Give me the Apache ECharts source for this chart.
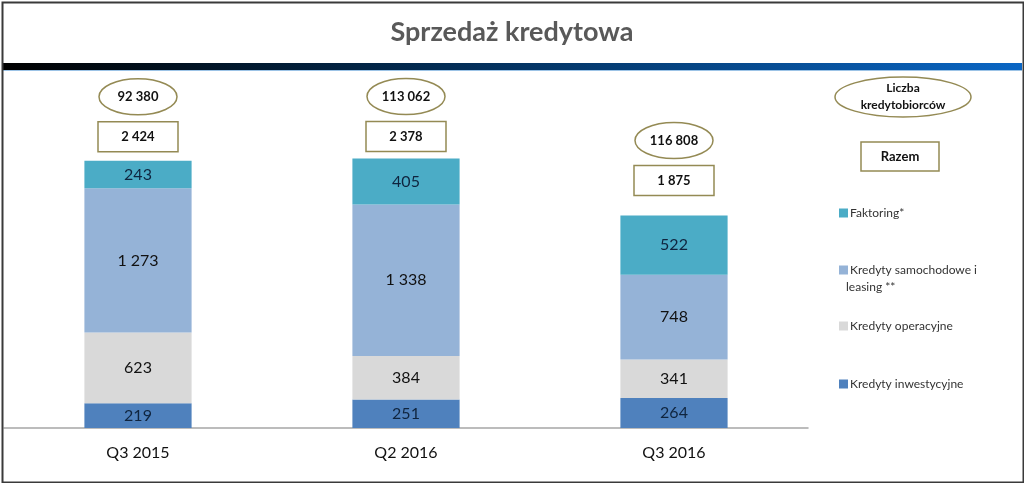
<!DOCTYPE html>
<html>
<head>
<meta charset="utf-8">
<script src="https://cdn.jsdelivr.net/npm/echarts@6/dist/echarts.min.js"></script>
<style>
html, body { margin: 0; padding: 0; background: #fff; }
#chart { width: 1024px; height: 483px; }
</style>
</head>
<body>
<div id="chart"></div>
<script>
// dane
var categories = ['Q3 2015', 'Q2 2016', 'Q3 2016'];
var inwestycyjne = [219, 251, 264];
var operacyjne = [623, 384, 341];
var samochodowe = [1273, 1338, 748];
var faktoring = [243, 405, 522];
var razem = ['2 424', '2 378', '1 875'];
var kredytobiorcy = ['92 380', '113 062', '116 808'];

// how far above the bar top the box sits (px)
var boxLift = [24, 22, 35];

var FONT = 'Lato, "Open Sans", sans-serif';
var OLIVE = '#948a54';

var stackTop = categories.map(function (c, i) {
  return inwestycyjne[i] + operacyjne[i] + samochodowe[i] + faktoring[i];
});

var barSeries = function (name, data, color, txt) {
  return {
    name: name,
    type: 'bar',
    stack: 'all',
    barWidth: '40%',
    data: data,
    itemStyle: { color: color },
    label: {
      show: true,
      position: 'inside',
      fontFamily: FONT,
      fontSize: 16,
      color: txt,
      formatter: function (p) { return String(p.value).replace(/\B(?=(\d{3})+(?!\d))/g, ' '); }
    }
  };
};

// one legend per entry so the spacing can follow the original
var legendItem = function (name, top) {
  return {
    data: [name],
    left: 834,
    top: top,
    orient: 'vertical',
    itemWidth: 9,
    itemHeight: 9,
    itemGap: 0,
    selectedMode: false,
    icon: 'rect',
    formatter: function (n) { return n.split('\n')[0]; },
    textStyle: { fontFamily: FONT, fontSize: 12, color: '#333', padding: [0, 0, 0, -3] }
  };
};

var chart = echarts.init(document.getElementById('chart'));

var option = {
  animation: false,
  title: {
    text: 'Sprzedaż kredytowa',
    left: 'center',
    top: 14,
    textStyle: { fontFamily: FONT, fontSize: 27, fontWeight: 'bold', color: '#595959' }
  },
  legend: [
    legendItem('Faktoring*', 202),
    legendItem('Kredyty samochodowe i\nleasing **', 259),
    legendItem('Kredyty operacyjne', 315),
    legendItem('Kredyty inwestycyjne', 373)
  ],
  grid: { left: 4, right: 216, top: 88, bottom: 55 },
  xAxis: {
    type: 'category',
    data: categories,
    axisTick: { show: false },
    axisLine: { lineStyle: { color: '#a6a6a6', width: 1.5 } },
    axisLabel: { fontFamily: FONT, fontSize: 16, color: '#111', margin: 17 }
  },
  yAxis: {
    type: 'value',
    min: 0,
    max: 3000,
    show: false,
    splitLine: { show: false }
  },
  series: [
    barSeries('Kredyty inwestycyjne', inwestycyjne, '#4f81bd', '#0f243e'),
    barSeries('Kredyty operacyjne', operacyjne, '#d9d9d9', '#111'),
    barSeries('Kredyty samochodowe i\nleasing **', samochodowe, '#95b3d7', '#111'),
    barSeries('Faktoring*', faktoring, '#4bacc6', '#0f243e'),
    {
      type: 'custom',
      silent: true,
      data: stackTop.map(function (v, i) { return [i, v]; }),
      renderItem: function (params, api) {
        var i = params.dataIndex;
        var pt = api.coord([api.value(0), api.value(1)]);
        var by = pt[1] - boxLift[i];
        var ey = by - 40;
        return {
          type: 'group',
          children: [
            {
              type: 'rect',
              shape: { x: pt[0] - 40, y: by - 15, width: 80, height: 30 },
              style: { fill: '#fff', stroke: OLIVE, lineWidth: 1.5 }
            },
            {
              type: 'text',
              style: {
                x: pt[0], y: by, text: razem[i], align: 'center', verticalAlign: 'middle',
                font: 'bold 13px ' + FONT, fill: '#111'
              }
            },
            {
              type: 'ellipse',
              shape: { cx: pt[0], cy: ey, rx: 39, ry: 18 },
              style: { fill: '#fff', stroke: OLIVE, lineWidth: 1.5 }
            },
            {
              type: 'text',
              style: {
                x: pt[0], y: ey, text: kredytobiorcy[i], align: 'center', verticalAlign: 'middle',
                font: 'bold 13px ' + FONT, fill: '#111'
              }
            }
          ]
        };
      }
    }
  ],
  graphic: [
    {
      type: 'rect',
      left: 0, top: 0,
      shape: { x: 1, y: 1, width: 1021, height: 480 },
      style: { fill: 'none', stroke: '#3a3a3a', lineWidth: 2 },
      z: 100
    },
    {
      type: 'rect',
      left: 2, top: 63,
      shape: { width: 1020, height: 7 },
      style: {
        fill: new echarts.graphic.LinearGradient(0, 0, 1, 0, [
          { offset: 0, color: '#000000' },
          { offset: 0.35, color: '#022444' },
          { offset: 1, color: '#0a66c4' }
        ])
      }
    },
    {
      type: 'rect',
      left: 2, top: 70,
      shape: { width: 1020, height: 1 },
      style: { fill: '#9cc3e6' }
    },
    {
      // second line of the two-line legend entry
      type: 'text',
      style: {
        x: 846, y: 287, text: 'leasing **', verticalAlign: 'middle',
        font: '12px ' + FONT, fill: '#333'
      }
    },
    {
      type: 'ellipse',
      shape: { cx: 903, cy: 97, rx: 68, ry: 20 },
      style: { fill: '#fff', stroke: OLIVE, lineWidth: 1.5 }
    },
    {
      type: 'text',
      style: {
        x: 903, y: 97, text: 'Liczba\nkredytobiorców', align: 'center', verticalAlign: 'middle',
        font: 'bold 12px ' + FONT, fill: '#111', lineHeight: 17
      }
    },
    {
      type: 'rect',
      shape: { x: 861, y: 142, width: 78, height: 29 },
      style: { fill: '#fff', stroke: OLIVE, lineWidth: 1.5 }
    },
    {
      type: 'text',
      style: {
        x: 900, y: 157, text: 'Razem', align: 'center', verticalAlign: 'middle',
        font: 'bold 13px ' + FONT, fill: '#111'
      }
    }
  ]
};

chart.setOption(option);
</script>
</body>
</html>
